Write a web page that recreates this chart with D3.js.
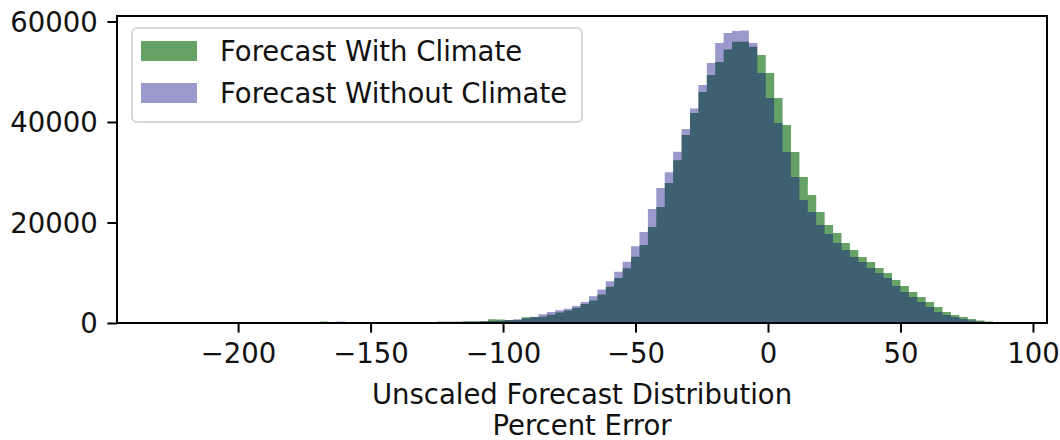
<!DOCTYPE html>
<html>
<head>
<meta charset="utf-8">
<script src="https://cdn.jsdelivr.net/npm/d3@7"></script>
<style>
  body { margin: 0; background: #fff; }
  text { font-family: "DejaVu Sans", sans-serif; }
</style>
</head>
<body>
<script>
var width = 1060,
    height = 440;

// histogram bins (matplotlib bins=100)
var binStart = -229.6,
    binWidth = 3.177;

var seriesNames = ["Forecast With Climate", "Forecast Without Climate"];

var withClimate = [
  0, 0, 0, 0, 0, 0, 0, 0, 0, 0,
  0, 0, 0, 0, 0, 0, 0, 0, 0, 300,
  150, 150, 160, 160, 170, 170, 180, 180, 190, 200,
  200, 210, 220, 230, 240, 260, 280, 300, 350, 740,
  700, 600, 650, 1130, 1150, 1250, 1650, 2100, 2500, 3050,
  3780, 4500, 5650, 7200, 8930, 10900, 13200, 15520, 19100, 23080,
  27860, 32400, 37410, 41790, 45970, 49350, 51940, 54400, 55950, 55950,
  54950, 53330, 49750, 44780, 39400, 34030, 29050, 25470, 22090, 19500,
  17910, 15920, 14530, 13130, 12140, 10950, 9950, 8560, 7360, 6170,
  5170, 4180, 3180, 2190, 1590, 1190, 800, 500, 300, 140
];

var withoutClimate = [
  0, 0, 0, 0, 0, 0, 0, 0, 0, 0,
  0, 0, 0, 0, 0, 0, 0, 0, 0, 100,
  150, 320, 160, 170, 170, 180, 180, 190, 190, 200,
  210, 210, 220, 240, 250, 270, 290, 320, 360, 400,
  450, 600, 700, 950, 1260, 1750, 2200, 2550, 2850, 3400,
  4200, 5300, 6670, 8300, 10180, 12170, 15250, 18110, 22690, 26870,
  30000, 34100, 38600, 42690, 47360, 51740, 55720, 57710, 58100, 58200,
  55720, 49750, 44780, 39800, 34030, 29050, 24480, 22090, 19500, 17710,
  15920, 14530, 13130, 12140, 10950, 9950, 8960, 7360, 6170, 5170,
  4180, 3180, 2190, 1590, 1190, 800, 500, 300, 140, 30
];

var xTicks = [-200, -150, -100, -50, 0, 50, 100];
var yTicks = [0, 20000, 40000, 60000];

var colors = ["#006400", "#000080"],
    alphas = [0.6, 0.4];

var fontSize = "27.5px";

var margin = {left: 117, right: 13, top: 16, bottom: 117};
var plotW = width - margin.left - margin.right,
    plotH = height - margin.top - margin.bottom;

var x = d3.scaleLinear().domain([-245.7, 105.3]).range([0, plotW]);
var y = d3.scaleLinear().domain([0, 61090]).range([plotH, 0]);

var svg = d3.select("body").append("svg")
    .attr("width", width)
    .attr("height", height);

var g = svg.append("g")
    .attr("transform", "translate(" + margin.left + "," + margin.top + ")");

// step outline of a histogram: one point per bin edge
function steps(counts) {
  var pts = counts.map(function(c, i) {
    return {x: binStart + i * binWidth, count: c};
  });
  pts.push({x: binStart + counts.length * binWidth, count: counts[counts.length - 1]});
  return pts;
}

var area = d3.area()
    .curve(d3.curveStepAfter)
    .x(function(d) { return x(d.x); })
    .y0(y(0))
    .y1(function(d) { return y(d.count); });

[withClimate, withoutClimate].forEach(function(counts, k) {
  g.append("path")
      .datum(steps(counts))
      .attr("class", "hist")
      .attr("d", area)
      .style("fill", colors[k])
      .style("fill-opacity", alphas[k]);
});

// axes
var xAxis = g.append("g")
    .attr("transform", "translate(0," + plotH + ")")
    .call(d3.axisBottom(x).tickValues(xTicks).tickSize(9.6).tickPadding(9.6)
      .tickFormat(function(d) { return d < 0 ? "\u2212" + Math.abs(d) : d; }));

var yAxis = g.append("g")
    .call(d3.axisLeft(y).tickValues(yTicks).tickSize(9.6).tickPadding(9.6)
      .tickFormat(d3.format("d")));

[xAxis, yAxis].forEach(function(a) {
  a.select(".domain").remove();
  a.selectAll(".tick line").style("stroke", "#000").style("stroke-width", 2);
  a.selectAll(".tick text").style("font-size", fontSize).style("fill", "#111");
});
yAxis.selectAll(".tick text").attr("dy", "0.36em");
xAxis.selectAll(".tick text").attr("dy", "0.76em");

// frame
g.append("rect")
    .attr("width", plotW)
    .attr("height", plotH)
    .style("fill", "none")
    .style("stroke", "#000")
    .style("stroke-width", 2);

// x label
var xlab = svg.append("text")
    .attr("text-anchor", "middle")
    .style("font-size", fontSize)
    .style("fill", "#111");
xlab.append("tspan").attr("x", margin.left + plotW / 2).attr("y", 404).text("Unscaled Forecast Distribution");
xlab.append("tspan").attr("x", margin.left + plotW / 2).attr("y", 435).text("Percent Error");

// legend
var legend = svg.append("g").attr("transform", "translate(132,28)");
legend.append("rect")
    .attr("width", 450)
    .attr("height", 94)
    .attr("rx", 5)
    .style("fill", "#fff")
    .style("fill-opacity", 0.8)
    .style("stroke", "#d6d6d6")
    .style("stroke-width", 1.8);

var item = legend.selectAll(".item")
    .data(seriesNames)
  .enter().append("g")
    .attr("class", "item")
    .attr("transform", function(d, i) { return "translate(0," + (13 + i * 42) + ")"; });

item.append("rect")
    .attr("x", 9)
    .attr("width", 56)
    .attr("height", 20)
    .style("fill", function(d, i) { return colors[i]; })
    .style("fill-opacity", function(d, i) { return alphas[i]; });

item.append("text")
    .attr("x", 88)
    .attr("y", 10)
    .attr("dy", "0.36em")
    .style("font-size", fontSize)
    .style("fill", "#111")
    .text(function(d) { return d; });
</script>
</body>
</html>
